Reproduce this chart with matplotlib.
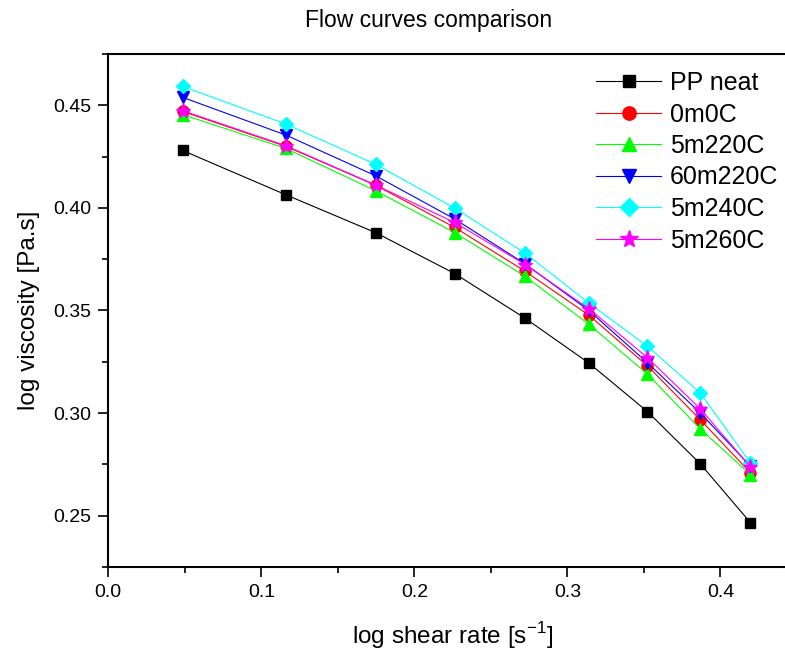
import matplotlib
matplotlib.use("Agg")
import matplotlib.pyplot as plt
from matplotlib.ticker import MultipleLocator

plt.rcParams['font.family'] = ['Liberation Sans', 'DejaVu Sans']

# ' Data
log_shear_rate = [0.0485, 0.116, 0.1748, 0.2263, 0.2724, 0.314, 0.3523, 0.3869, 0.4196]

pp_neat = [0.428, 0.4064, 0.3879, 0.368, 0.3462, 0.3244, 0.3007, 0.2752, 0.2466]
s_0m0c = [0.447, 0.430, 0.411, 0.3905, 0.3691, 0.3477, 0.323, 0.2967, 0.2709]
s_5m220c = [0.4455, 0.429, 0.4083, 0.388, 0.3666, 0.3433, 0.319, 0.2922, 0.270]
s_60m220c = [0.4539, 0.4355, 0.4156, 0.3946, 0.3727, 0.350, 0.3245, 0.300, 0.2741]
s_5m240c = [0.4592, 0.4409, 0.4212, 0.3999, 0.3779, 0.3536, 0.3326, 0.3097, 0.2757]
s_5m260c = [0.4474, 0.4303, 0.4111, 0.3929, 0.3724, 0.3509, 0.327, 0.302, 0.2738]

series = [
    ("PP neat", pp_neat, "black", "s"),
    ("0m0C", s_0m0c, "#ff0000", "o"),
    ("5m220C", s_5m220c, "#00ff00", "^"),
    ("60m220C", s_60m220c, "#0000ff", "v"),
    ("5m240C", s_5m240c, "#00ffff", "D"),
    ("5m260C", s_5m260c, "#ff00ff", "*"),
]
marker_sizes = {"s": 7.5, "o": 8, "^": 8.5, "v": 8.5, "D": 7.5, "*": 11}

fig = plt.figure(figsize=(7.85, 6.54), dpi=100)
# axes run past the right edge, like the cropped reference
ax = fig.add_axes([108.3 / 785, 1 - 567 / 654, (797 - 108.3) / 785, (567 - 54) / 654])

for name, vals, col, mk in series:
    ax.plot(log_shear_rate, vals, color=col, marker=mk, markersize=marker_sizes[mk],
            linewidth=0.8, label=name)

ax.set_xlim(0.0, 0.45)
ax.set_ylim(0.225, 0.475)
ax.xaxis.set_major_locator(MultipleLocator(0.1))
ax.xaxis.set_minor_locator(MultipleLocator(0.05))
ax.yaxis.set_major_locator(MultipleLocator(0.05))
ax.yaxis.set_minor_locator(MultipleLocator(0.025))
ax.xaxis.set_major_formatter(plt.FormatStrFormatter('%.1f'))
ax.yaxis.set_major_formatter(plt.FormatStrFormatter('%.2f'))
ax.tick_params(which='major', direction='out', length=7, width=1.2, labelsize=14, pad=5)
ax.tick_params(which='minor', direction='out', length=4, width=1.2)
for sp in ax.spines.values():
    sp.set_linewidth(1.5)

ax.set_xlabel("log shear rate [s$^{\\mathregular{-1}}$]", fontsize=17.5, labelpad=14)
ax.set_ylabel("log viscosity [Pa.s]", fontsize=17.5, labelpad=10)
fig.text(429 / 785, 1 - 20 / 654, "Flow curves comparison", ha='center', va='center', fontsize=16.5)

leg = ax.legend(loc='upper left', bbox_to_anchor=(596 / 785, 1 - 71 / 654),
                bbox_transform=fig.transFigure, frameon=False, fontsize=18,
                handlelength=2.6, handletextpad=0.35, labelspacing=0.3, markerscale=1.2,
                borderpad=0, borderaxespad=0)

fig.savefig("out.png", dpi=100)
